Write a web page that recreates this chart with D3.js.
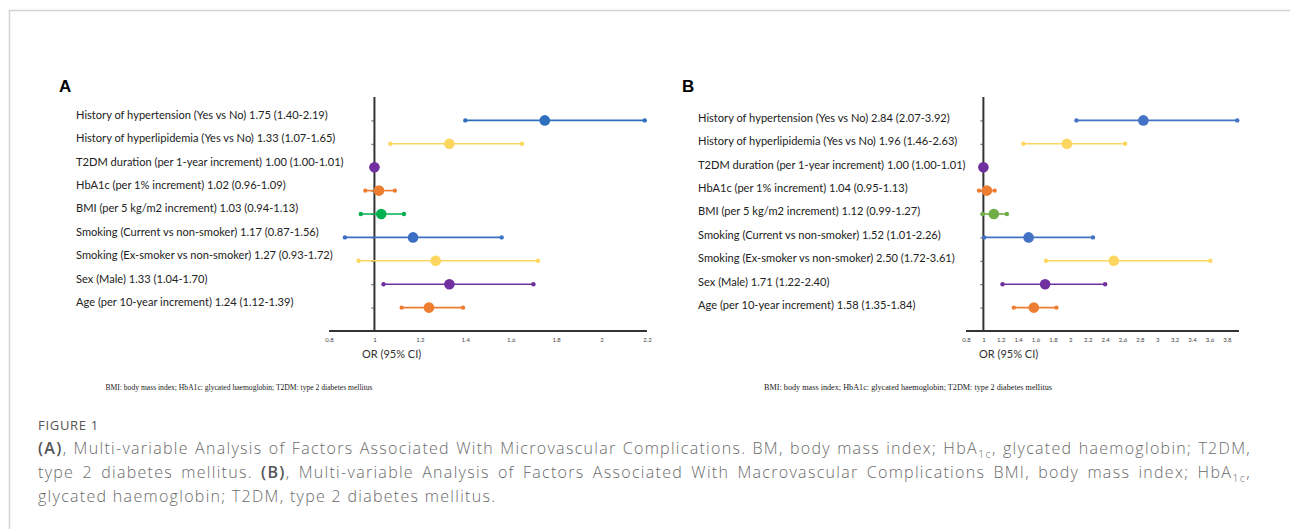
<!DOCTYPE html>
<meta charset="utf-8">
<script src="https://d3js.org/d3.v7.min.js"></script>
<style>
body { margin: 0; background-color: white; }
</style>
<div id="fig"></div>
<script>
  var labelsA = ["History of hypertension (Yes vs No)", "History of hyperlipidemia (Yes vs No)", "T2DM duration (per 1-year increment)",
    "HbA1c (per 1% increment) ", "BMI (per 5 kg/m2 increment)", "Smoking (Current vs non-smoker)",
    "Smoking (Ex-smoker vs non-smoker)", "Sex (Male)", "Age (per 10-year increment)"];
  var labelsB = labelsA;

  var orA = [1.75, 1.33, 1.00, 1.02, 1.03, 1.17, 1.27, 1.33, 1.24];
  var loA = [1.40, 1.07, 1.00, 0.96, 0.94, 0.87, 0.93, 1.04, 1.12];
  var hiA = [2.19, 1.65, 1.01, 1.09, 1.13, 1.56, 1.72, 1.70, 1.39];

  var orB = [2.84, 1.96, 1.00, 1.04, 1.12, 1.52, 2.50, 1.71, 1.58];
  var loB = [2.07, 1.46, 1.00, 0.95, 0.99, 1.01, 1.72, 1.22, 1.35];
  var hiB = [3.92, 2.63, 1.01, 1.13, 1.27, 2.26, 3.61, 2.40, 1.84];

  var colorsA = ["#2e6fbd", "#fcd65e", "#7030a0", "#ed7d31", "#00b050", "#3c6fc4", "#fcd65e", "#7030a0", "#ed7d31"];
  var colorsB = ["#4472c4", "#fcd65e", "#7030a0", "#ed7d31", "#70ad47", "#4472c4", "#fcd65e", "#7030a0", "#ed7d31"];

  var ticksA = [0.8, 1, 1.2, 1.4, 1.6, 1.8, 2, 2.2];
  var ticksB = [0.8, 1, 1.2, 1.4, 1.6, 1.8, 2, 2.2, 2.4, 2.6, 2.8, 3, 3.2, 3.4, 3.6, 3.8];

  var footnote = "BMI: body mass index;  HbA1c: glycated  haemoglobin;  T2DM: type 2 diabetes mellitus";

  var width = 1290, height = 529;

  var svg = d3.select("#fig").append("svg")
      .attr("width", width)
      .attr("height", height)
      .style("font-family", "Lato, 'Open Sans', sans-serif");

  // page frame
  svg.append("rect")
    .attr("x", 9.5).attr("y", 10.5)
    .attr("width", 1400).attr("height", 600)
    .attr("fill", "none")
    .attr("stroke", "#d4d4d4")
    .attr("stroke-width", 1.5);

  function fmt(v) { return v.toFixed(2); }

  function panel(opt) {
    var g = svg.append("g");
    var x = d3.scaleLinear().domain(opt.domain).range(opt.xrange);
    var y = d3.scaleLinear().domain([0, 10]).range([97, 331]);
    var rows = d3.range(opt.or.length);

    g.append("text")
      .attr("x", opt.letterX).attr("y", 92)
      .attr("font-family", "Liberation Sans, Arial, sans-serif")
      .attr("font-weight", "bold")
      .attr("font-size", 17)
      .text(opt.letter);

    g.selectAll(".lab")
      .data(rows)
      .enter()
      .append("text")
        .attr("x", opt.labelX)
        .attr("y", function(i) { return y(i + 1) + opt.labelDy; })
        .attr("dominant-baseline", "middle")
        .attr("font-size", 11.1)
        .attr("fill", "#222")
        .text(function(i) { return opt.labels[i] + " " + fmt(opt.or[i]) + " (" + fmt(opt.lo[i]) + "-" + fmt(opt.hi[i]) + ")"; });

    // x axis
    var xa = g.append("g")
      .attr("transform", "translate(0," + y(10) + ")")
      .call(d3.axisBottom(x).tickValues(opt.ticks).tickSize(0).tickPadding(7).tickFormat(function(d) { return String(+d.toFixed(1)); }));
    xa.select(".domain").attr("stroke", "#333").attr("stroke-width", 2).attr("d", "M" + opt.xrange[0] + ",0H" + opt.xrange[1]);
    xa.selectAll("text").attr("font-size", 6).attr("fill", "#444").attr("font-family", "Lato, sans-serif");

    // y axis at OR = 1
    var ya = g.append("g")
      .attr("transform", "translate(" + x(1) + ",0)")
      .call(d3.axisLeft(y).tickValues(rows.map(function(i) { return i + 1; })).tickSize(3).tickFormat(""));
    ya.select(".domain").attr("stroke", "#333").attr("stroke-width", 2).attr("d", "M0," + y(0) + "V" + y(10));
    ya.selectAll(".tick line").attr("stroke", "#555");

    g.append("text")
      .attr("x", opt.titleX).attr("y", 358)
      .attr("font-size", 11)
      .attr("fill", "#333")
      .text("OR (95% CI)");

    g.selectAll(".ci")
      .data(rows)
      .enter()
      .append("line")
        .attr("x1", function(i) { return x(opt.lo[i]); })
        .attr("x2", function(i) { return x(opt.hi[i]); })
        .attr("y1", function(i) { return y(i + 1); })
        .attr("y2", function(i) { return y(i + 1); })
        .attr("stroke", function(i) { return opt.colors[i]; })
        .attr("stroke-width", 1.6);

    ["lo", "hi"].forEach(function(k) {
      g.selectAll(".end" + k)
        .data(rows)
        .enter()
        .append("circle")
          .attr("cx", function(i) { return x(opt[k][i]); })
          .attr("cy", function(i) { return y(i + 1); })
          .attr("r", 2.2)
          .attr("fill", function(i) { return opt.colors[i]; });
    });

    g.selectAll(".pt")
      .data(rows)
      .enter()
      .append("circle")
        .attr("cx", function(i) { return x(opt.or[i]); })
        .attr("cy", function(i) { return y(i + 1); })
        .attr("r", 5.3)
        .attr("fill", function(i) { return opt.colors[i]; });

    g.append("text")
      .attr("x", opt.footX).attr("y", 390)
      .attr("text-anchor", "middle")
      .attr("font-family", "Liberation Serif, 'Times New Roman', serif")
      .attr("font-size", opt.footSize)
      .attr("fill", "#222")
      .text(footnote);
  }

  panel({letter: "A", letterX: 59, labelX: 76, labelDy: -4.5, labels: labelsA, or: orA, lo: loA, hi: hiA,
    colors: colorsA, domain: [0.8, 2.2], xrange: [329, 647], ticks: ticksA, titleX: 362, footX: 239, footSize: 7.6});
  panel({letter: "B", letterX: 682, labelX: 698, labelDy: -1.5, labels: labelsB, or: orB, lo: loB, hi: hiB,
    colors: colorsB, domain: [0.8, 3.94], xrange: [966, 1239], ticks: ticksB, titleX: 979, footX: 908, footSize: 8.2});

  // caption
  var cap = svg.append("g")
    .attr("font-family", "'Open Sans', 'Noto Sans', sans-serif")
    .attr("fill", "#6a6a6a");

  cap.append("text")
    .attr("x", 38).attr("y", 430)
    .attr("font-size", 13)
    .attr("letter-spacing", 0.7)
    .attr("fill", "#555")
    .text("FIGURE 1");

  var capLines = [
    [["(A)", "b"], [", Multi-variable Analysis of Factors Associated With Microvascular Complications. BM, body mass index; HbA", ""], ["1c", "sub"], [", glycated haemoglobin; T2DM,", "up"]],
    [["type 2 diabetes mellitus. ", ""], ["(B)", "b"], [", Multi-variable Analysis of Factors Associated With Macrovascular Complications BMI, body mass index; HbA", ""], ["1c", "sub"], [",", "up"]],
    [["glycated haemoglobin; T2DM, type 2 diabetes mellitus.", ""]]
  ];
  var capY = [454, 478, 502];
  var capRight = 1251;

  capLines.forEach(function(parts, li) {
    var t = cap.append("text")
      .attr("x", 38).attr("y", capY[li])
      .attr("font-size", 16)
      .attr("letter-spacing", 1.3)
      .attr("font-weight", 300);
    parts.forEach(function(p) {
      var ts = t.append("tspan").text(p[0]);
      if (p[1] === "b") ts.attr("font-weight", 600).attr("fill", "#555");
      if (p[1] === "sub") ts.attr("font-size", 11).attr("dy", 4);
      if (p[1] === "up") ts.attr("dy", -4);
    });
    // justify all but the last line
    if (li < capLines.length - 1) {
      var w = t.node().getComputedTextLength();
      var spaces = t.text().split(" ").length - 1;
      t.attr("word-spacing", Math.max(0, (capRight - 38 - w) / spaces));
    }
  });
</script>
